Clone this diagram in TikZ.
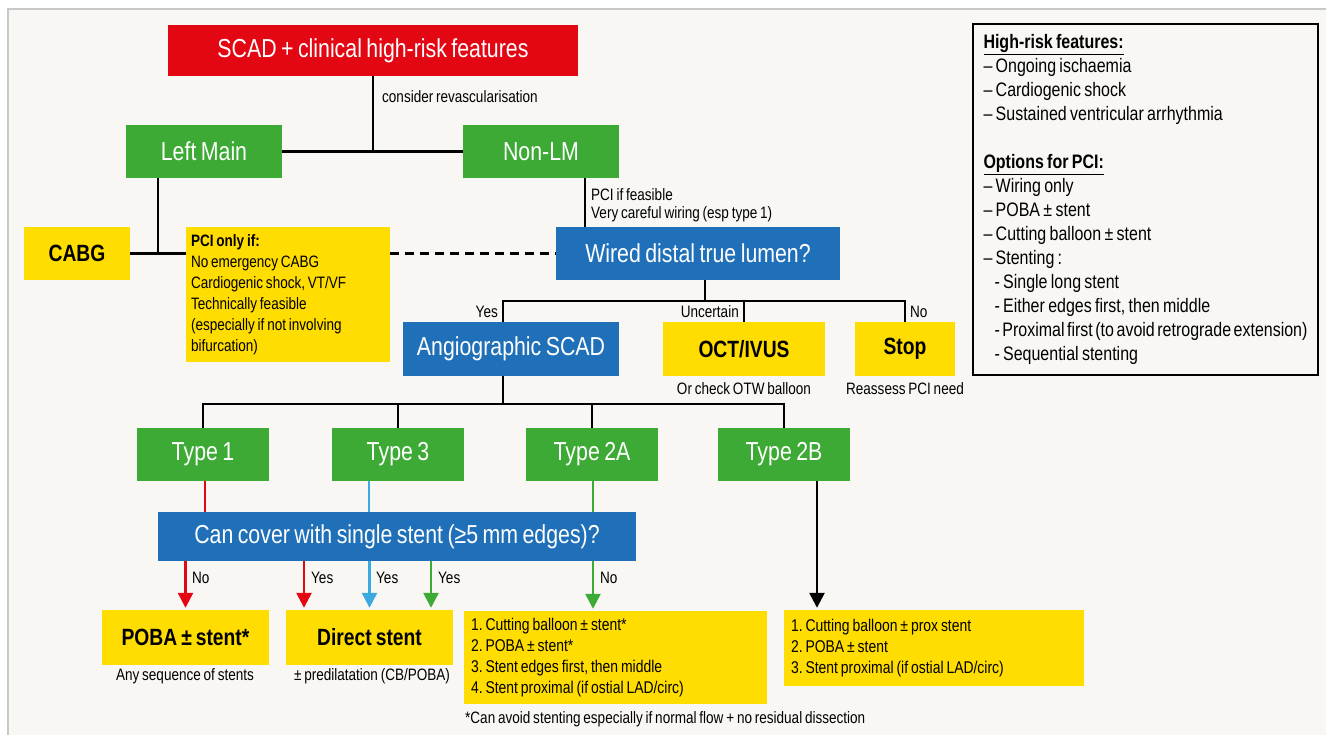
\documentclass[tikz,border=0pt]{standalone}
\usepackage{fontspec}
\setmainfont{Liberation Sans}[FakeStretch=0.82,WordSpace=0.75]
\usetikzlibrary{arrows.meta,calc}
\definecolor{scadred}{HTML}{E30613}
\definecolor{boxgreen}{HTML}{3DAA35}
\definecolor{boxblue}{HTML}{1F70B8}
\definecolor{boxyellow}{HTML}{FFDD00}
\definecolor{lightblue}{HTML}{3AAAE1}
\definecolor{panel}{HTML}{F8F7F3}
\definecolor{framegray}{HTML}{C8C8C8}
\newcommand{\bigf}{\fontsize{26}{30}\selectfont\frenchspacing}
\newcommand{\boldf}{\fontsize{23.5}{28}\selectfont\bfseries\frenchspacing}
\newcommand{\smallf}{\fontsize{16.5}{21}\selectfont\frenchspacing}
\newcommand{\boxf}{\fontsize{17}{21}\selectfont\frenchspacing}
\newcommand{\legf}{\fontsize{19.5}{24}\selectfont\frenchspacing}
\newcommand{\nsp}{\spaceskip=0pt\xspaceskip=0pt\relax}
\frenchspacing
\begin{document}
\begin{tikzpicture}[x=1pt,y=-1pt,
  wh/.style 2 args={minimum width=#1,minimum height=#2,inner sep=0pt},
  redbox/.style={fill=scadred,text=white,font=\bigf},
  greenbox/.style={fill=boxgreen,text=white,font=\bigf},
  bluebox/.style={fill=boxblue,text=white,font=\bigf},
  yelbold/.style={fill=boxyellow,text=black,font=\boldf},
  yeltext/.style={fill=boxyellow,text=black,font=\smallf,align=left},
  lbl/.style={font=\smallf,inner sep=0pt},
  conn/.style={draw=black,line width=2.5pt},
  cline/.style={line width=2.5pt},
  arr/.style={line width=2.5pt,-{Triangle[width=15pt,length=15pt]},shorten >=2pt}
]
\useasboundingbox (0,0) rectangle (1326,735);
\clip (0,0) rectangle (1326,735);
\fill[white] (0,0) rectangle (1326,735);
\draw[framegray,fill=panel,line width=1.5pt] (8,9) rectangle (1345,760);

% nodes
\node[redbox,wh={410}{51}] (scad) at (373,50.5) {SCAD + clinical high-risk features};
\node[greenbox,wh={156}{53}] (lm) at (204,151.5) {Left Main};
\node[greenbox,wh={156}{53}] (nonlm) at (541,151.5) {Non-LM};
\node[yelbold,wh={106}{53}] (cabg) at (77,253.5) {CABG};
\node[yeltext,minimum height=135,text width=194,inner xsep=5,inner ysep=0] (pci) at (288,294.5)
  {\nsp\textbf{PCI only if:}\\No emergency CABG\\Cardiogenic shock, VT/VF\\Technically feasible\\(especially if not involving\\bifurcation)};
\node[bluebox,wh={284}{53}] (wired) at (698,253.5) {Wired distal true lumen?};
\node[bluebox,wh={216}{54}] (angio) at (511,349) {Angiographic SCAD};
\node[yelbold,wh={162}{54}] (oct) at (744,349) {OCT/IVUS};
\node[yelbold,wh={100}{54}] (stop) at (905,349) {Stop};
\node[greenbox,wh={132}{53}] (t1) at (203,454.5) {Type 1};
\node[greenbox,wh={132}{53}] (t3) at (398,454.5) {Type 3};
\node[greenbox,wh={132}{53}] (t2a) at (592,454.5) {Type 2A};
\node[greenbox,wh={132}{53}] (t2b) at (784,454.5) {Type 2B};
\node[bluebox,wh={478}{49}] (cover) at (397,536.5) {Can cover with single stent (≥5 mm edges)?};
\node[yelbold,wh={167}{55}] (poba) at (185.5,637.5) {POBA ± stent*};
\node[yelbold,wh={167}{55}] (direct) at (369.5,637.5) {Direct stent};
\node[yeltext,font=\boxf,minimum height=93,text width=289,inner xsep=7,inner ysep=0] (box2a) at (615.5,657.5)
  {\nsp 1. Cutting balloon ± stent*\\2. POBA ± stent*\\3. Stent edges first, then middle\\4. Stent proximal (if ostial LAD/circ)};
\node[yeltext,font=\boxf,minimum height=76,text width=286,inner xsep=7,inner ysep=0] (box2b) at (934,648)
  {\nsp 1. Cutting balloon ± prox stent\\2. POBA ± stent\\3. Stent proximal (if ostial LAD/circ)\\[6pt]};
\node[draw=black,line width=2pt,minimum width=345,minimum height=351,text width=324,inner xsep=10.5,inner ysep=0,align=left,font=\legf] (legend) at (1145.5,199.5)
  {\nsp\textbf{\underline{High-risk features:}}\\
   – Ongoing ischaemia\\
   – Cardiogenic shock\\
   – Sustained ventricular arrhythmia\\[24pt]
   \textbf{\underline{Options for PCI:}}\\
   – Wiring only\\
   – POBA ± stent\\
   – Cutting balloon ± stent\\
   – Stenting :\\
   \hspace*{11pt}- Single long stent\\
   \hspace*{11pt}- Either edges first, then middle\\
   \hspace*{11pt}- Proximal first (to avoid retrograde extension)\\
   \hspace*{11pt}- Sequential stenting};

% top connectors
\draw[conn] (scad.south) -- (scad.south |- lm.east);
\draw[conn] (lm.east) -- (nonlm.west);
\node[lbl,anchor=west] (lcons) at (382,97) {consider revascularisation};
\coordinate (lmfoot) at ([xshift=-46]lm.south);
\draw[conn] (lmfoot) -- (lmfoot |- cabg.east);
\draw[conn] (cabg.east) -- (cabg.east -| pci.west);
\draw[conn,dash pattern=on 9pt off 6pt] (wired.west -| pci.east) -- (wired.west);
\coordinate (nlfoot) at ([xshift=44]nonlm.south);
\draw[conn] (nlfoot) -- (nlfoot |- wired.north);
\node[lbl,anchor=north west,align=left] (lpcif) at (591,188) {PCI if feasible\\[-3pt]Very careful wiring (esp type 1)};

% wired branches
\coordinate (wj) at (705,301);
\coordinate (angtop) at ([xshift=-8]angio.north);
\draw[conn] (wired.south -| wj) -- (wj);
\draw[conn] (angtop) |- (wj) -| (stop.north);
\draw[conn] (oct.north) -- (oct.north |- wj);
\node[lbl,anchor=east] (lyes) at (498,312) {Yes};
\node[lbl,anchor=east] (lunc) at (739,312) {Uncertain};
\node[lbl,anchor=west] (lno) at (910,312) {No};
\node[lbl] (lotw) at (744,389) {Or check OTW balloon};
\node[lbl] (lreas) at (905,389) {Reassess PCI need};

% angiographic branches
\coordinate (aj) at (503,404);
\draw[conn] (angio.south -| aj) -- (aj);
\draw[conn] (t1.north) |- (aj) -| (t2b.north);
\draw[conn] (t3.north) -- (t3.north |- aj);
\draw[conn] (t2a.north) -- (t2a.north |- aj);

% type to cover
\coordinate (c1) at ([xshift=2]t1.south);
\coordinate (c3) at ([xshift=-29]t3.south);
\coordinate (c2a) at ([xshift=1]t2a.south);
\draw[cline,scadred] (c1) -- (c1 |- cover.north);
\draw[cline,lightblue] (c3) -- (c3 |- cover.north);
\draw[cline,boxgreen] (c2a) -- (c2a |- cover.north);

% cover arrows
\coordinate (dr) at ([xshift=-65.5]direct.north);
\coordinate (dg) at ([xshift=61.5]direct.north);
\coordinate (ag) at ([xshift=-22.5]box2a.north);
\draw[arr,scadred] (cover.south -| poba.north) -- (poba.north);
\draw[arr,scadred] (dr |- cover.south) -- (dr);
\draw[arr,lightblue] (cover.south -| direct.north) -- (direct.north);
\draw[arr,boxgreen] (dg |- cover.south) -- (dg);
\draw[arr,boxgreen] (ag |- cover.south) -- (ag);
\node[lbl,anchor=west] (ln1) at (192,578) {No};
\node[lbl,anchor=west] (ly1) at (311,578) {Yes};
\node[lbl,anchor=west] (ly2) at (376,578) {Yes};
\node[lbl,anchor=west] (ly3) at (438,578) {Yes};
\node[lbl,anchor=west] (ln2) at (600,578) {No};

% 2B arrow
\coordinate (b2) at ([xshift=33]t2b.south);
\draw[arr,black] (b2) -- (b2 |- box2b.north);

% captions
\node[lbl] (lany) at (185,676) {Any sequence of stents};
\node[lbl] (lpre) at (372,676) {± predilatation (CB/POBA)};
\node[lbl,anchor=west] (lfoot) at (465,719) {*Can avoid stenting especially if normal flow + no residual dissection};
\end{tikzpicture}
\end{document}
